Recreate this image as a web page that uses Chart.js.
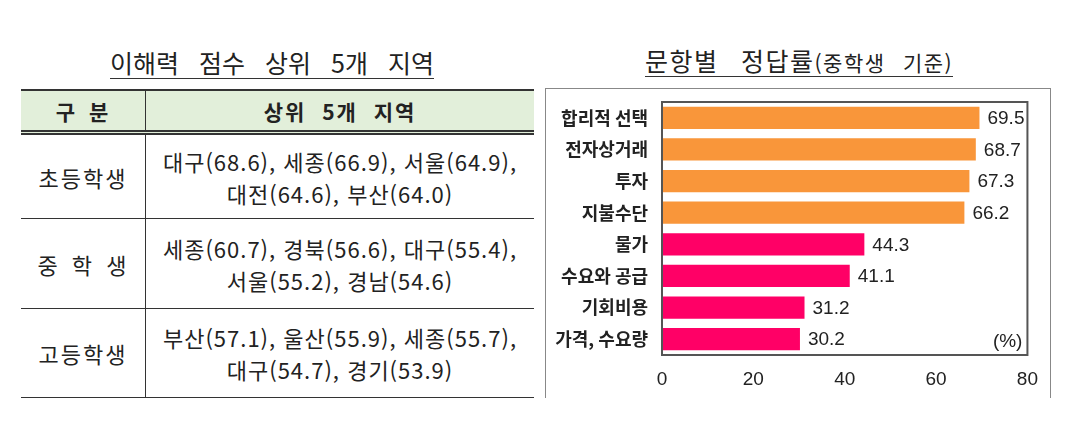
<!DOCTYPE html>
<html lang="ko">
<head>
<meta charset="utf-8">
<title>이해력 점수 상위 5개 지역 / 문항별 정답률</title>
<script src="https://cdn.jsdelivr.net/npm/chart.js@4.4.1/dist/chart.umd.min.js"></script>
<style>
    body { margin: 0; width: 1073px; height: 443px; background: #fff; position: relative; overflow: hidden;
           font-family: "Noto Sans CJK KR", "Noto Sans", sans-serif; color: #222; }
    .title { position: absolute; line-height: 1; white-space: nowrap; border-bottom: 1.5px solid #333; padding-bottom: 3px; }
    #leftTitle { left: 110px; top: 50px; font-size: 25px; word-spacing: 13px; }
    #rightTitle { left: 645px; top: 48px; font-size: 25px; word-spacing: 14px; letter-spacing: 1.5px; }
    #rightTitle small { font-size: 21px; word-spacing: 10px; letter-spacing: 1.5px; }
    #regionTable { position: absolute; left: 21px; top: 89px; width: 513px; border-collapse: collapse; font-size: 22px; letter-spacing: 1px; }
    #regionTable th, #regionTable td { padding: 0; text-align: center; line-height: 32px; }
    #regionTable thead th { background: #e2efda; height: 39px; border-top: 2px solid #333; border-bottom: 5px double #333;
                            font-weight: bold; font-size: 21px; letter-spacing: 2px; word-spacing: 8px; }
    #regionTable td { border-bottom: 1.5px solid #333; }
    #regionTable .col1 { width: 124px; border-right: 1.5px solid #333; letter-spacing: 2px; word-spacing: 4px; }
    #chartBox { position: absolute; left: 545px; top: 88px; width: 506px; height: 310px;
                border-top: 1.5px solid #888; border-left: 1.5px solid #888; border-right: 1.5px solid #888; box-sizing: border-box; }
    #chartBox canvas { position: absolute; left: -1.5px; top: -1.5px; }
</style>
</head>
<body>
<div class="title" id="leftTitle">이해력 점수 상위 5개 지역</div>
<table id="regionTable">
    <thead><tr><th class="col1">구 분</th><th>상위 5개 지역</th></tr></thead>
    <tbody></tbody>
</table>

<div class="title" id="rightTitle">문항별 정답률<small>(중학생 기준)</small></div>
<div id="chartBox"><canvas id="rateChart" width="506" height="310"></canvas></div>

<script>
// Table: top 5 regions by comprehension score
const groups = ['초등학생', '중 학 생', '고등학생'];
const regionLine1 = ['대구(68.6), 세종(66.9), 서울(64.9),', '세종(60.7), 경북(56.6), 대구(55.4),', '부산(57.1), 울산(55.9), 세종(55.7),'];
const regionLine2 = ['대전(64.6), 부산(64.0)', '서울(55.2), 경남(54.6)', '대구(54.7), 경기(53.9)'];
const rowHeights = [86, 90, 89];

// Chart: correct answer rate by question (middle school)
const categories = ['합리적 선택', '전자상거래', '투자', '지불수단', '물가', '수요와 공급', '기회비용', '가격, 수요량'];
const rates = [69.5, 68.7, 67.3, 66.2, 44.3, 41.1, 31.2, 30.2];
const xTicks = [0, 20, 40, 60, 80];

const tbody = document.querySelector('#regionTable tbody');
groups.forEach(function(g, i) {
    const tr = document.createElement('tr');
    tr.style.height = rowHeights[i] + 'px';
    tr.innerHTML = '<td class="col1">' + g + '</td><td>' + regionLine1[i] + '<br>' + regionLine2[i] + '</td>';
    tbody.appendChild(tr);
});

// frame around the plot area + value labels + unit
const decorPlugin = {
    id: 'decor',
    afterDatasetsDraw(chart) {
        const ctx = chart.ctx;
        const a = chart.chartArea;
        ctx.save();
        ctx.strokeStyle = '#555';
        ctx.lineWidth = 2;
        ctx.strokeRect(a.left, a.top, a.right - a.left, a.bottom - a.top);

        ctx.fillStyle = '#222';
        ctx.font = '19px "Liberation Sans", Arial, sans-serif';
        ctx.textBaseline = 'middle';
        ctx.textAlign = 'left';
        chart.getDatasetMeta(0).data.forEach(function(bar, i) {
            ctx.fillText(rates[i].toFixed(1), bar.x + 8, bar.y + 1);
        });
        ctx.textAlign = 'right';
        ctx.fillText('(%)', a.right - 5, a.bottom - 13);
        ctx.restore();
    }
};

const ctx = document.getElementById('rateChart').getContext('2d');
const rateChart = new Chart(ctx, {
    type: 'bar',
    data: {
        labels: categories,
        datasets: [{
            data: rates,
            backgroundColor: rates.map((v, i) => i < 4 ? '#f9963a' : '#ff0066'),
            borderWidth: 0,
            categoryPercentage: 1.0,
            barPercentage: 0.7
        }]
    },
    options: {
        indexAxis: 'y',
        responsive: false,
        animation: false,
        layout: { padding: { top: 14, right: 18, left: 0, bottom: 0 } },
        scales: {
            x: {
                min: 0,
                max: 80,
                afterBuildTicks: function(scale) {
                    scale.ticks = xTicks.map(v => ({ value: v }));
                },
                afterFit: function(scale) { scale.height = 43; },
                grid: { display: false, drawTicks: false },
                border: { display: false },
                ticks: {
                    padding: 13,
                    color: '#222',
                    font: { family: '"Liberation Sans", Arial, sans-serif', size: 19 }
                }
            },
            y: {
                afterFit: function(scale) {
                    scale.width = 117;
                    scale.paddingTop = 0;
                    scale.paddingBottom = 0;
                },
                grid: { display: false, drawTicks: false },
                border: { display: false },
                ticks: {
                    padding: 14,
                    color: '#222',
                    font: { family: '"Noto Sans CJK KR", sans-serif', size: 18, weight: 'bold' }
                }
            }
        },
        plugins: {
            legend: { display: false },
            tooltip: { enabled: false }
        }
    },
    plugins: [decorPlugin]
});
</script>
</body>
</html>
